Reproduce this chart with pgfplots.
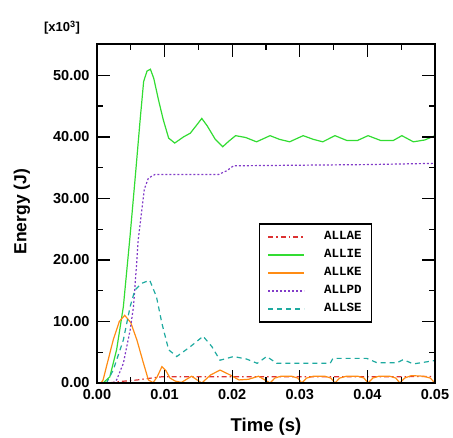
\documentclass[border=0pt]{standalone}
\usepackage{fontspec}
\setmainfont{Liberation Sans}
\setmonofont{Liberation Mono}
\usepackage{pgfplots}
\pgfplotsset{compat=1.18}

\definecolor{cAE}{RGB}{220,50,50}
\definecolor{cIE}{RGB}{50,220,50}
\definecolor{cKE}{RGB}{255,140,20}
\definecolor{cPD}{RGB}{130,60,200}
\definecolor{cSE}{RGB}{30,170,160}

\begin{document}
\begin{tikzpicture}
\path[use as bounding box] (-97pt,-55pt) rectangle (356pt,383pt);
\begin{axis}[
    name=ax,
    at={(0pt,0pt)}, anchor=origin,
    width=338pt, height=339pt, scale only axis,
    xmin=0, xmax=0.05, ymin=0, ymax=55.1,
    xtick={0,0.01,0.02,0.03,0.04,0.05},
    ytick={0,10,20,30,40,50},
    minor x tick num=1, minor y tick num=1,
    tick align=inside,
    major tick length=12.7pt, minor tick length=6pt,
    tick style={black, line width=1.3pt},
    scaled x ticks=false, scaled y ticks=false,
    xticklabel={\pgfmathprintnumber[fixed, fixed zerofill, precision=2, assume math mode=true]{\tick}},
    yticklabel={\pgfmathprintnumber[fixed, fixed zerofill, precision=2, assume math mode=true]{\tick}},
    tick label style={font=\bfseries\fontsize{14.5}{15}\selectfont},
    yticklabel style={xshift=-4pt},
    xticklabel style={yshift=-3pt},
    xlabel={Time (s)},
    ylabel={Energy (J)},
    xlabel style={font=\bfseries\fontsize{18.5}{20}\selectfont, at={(axis description cs:0.5,0)}, anchor=base, yshift=-49pt},
    ylabel style={font=\bfseries\fontsize{17.5}{20}\selectfont, at={(axis description cs:-0.2086,0.505)}, anchor=base},
    legend style={at={(rel axis cs:0.48,0.471)}, anchor=north west,
        draw=black, line width=1.2pt,
        font=\ttfamily\bfseries\fontsize{12.5}{13}\selectfont,
        inner xsep=8pt, inner ysep=4pt, column sep=17pt,
        nodes={text height=8pt, text depth=2pt, inner ysep=4pt}},
    legend cell align=left,
    legend image code/.code={\draw[#1] (0pt,0pt) -- (36pt,0pt);},
    clip=true,
]

\addplot[cAE, line width=1.2pt, dash pattern=on 5pt off 3pt on 1.5pt off 3pt] coordinates {
    (0,0) (0.002,0.05) (0.004,0.3) (0.006,0.5) (0.008,0.8) (0.0095,1.0)
    (0.015,1.0) (0.02,1.0) (0.03,1.0) (0.04,1.0) (0.05,1.05)
};
\addlegendentry{ALLAE}

\addplot[cIE, line width=1.2pt] coordinates {
    (0,0) (0.0007,0) (0.0010,0.1) (0.0019,1.0) (0.0029,5.4) (0.0039,12.4)
    (0.0049,24) (0.0057,34) (0.0064,43) (0.0069,49.0) (0.0074,50.7) (0.0079,51.0)
    (0.0084,49.5) (0.0091,46.0) (0.0098,42.8) (0.0106,39.8) (0.0115,39.0)
    (0.0128,40.0) (0.0138,40.6) (0.0148,42) (0.0155,43.0) (0.0163,41.8)
    (0.0175,39.6) (0.0186,38.4) (0.0195,39.3) (0.0205,40.2) (0.022,39.9)
    (0.0236,39.2) (0.0256,40.2) (0.027,39.6) (0.0285,39.2) (0.0305,40.2)
    (0.032,39.6) (0.0334,39.2) (0.0352,40.2) (0.037,39.4) (0.0385,39.4)
    (0.0401,40.2) (0.042,39.4) (0.0438,39.4) (0.0451,40.2) (0.0468,39.2)
    (0.0485,39.5) (0.05,40.2)
};
\addlegendentry{ALLIE}

\addplot[cKE, line width=1.2pt] coordinates {
    (0,0) (0.0006,0) (0.0009,0.5) (0.0024,7.0) (0.0033,10.0) (0.0041,11.0)
    (0.0050,9.8) (0.0059,7.0) (0.0068,3.5) (0.0076,0.5) (0.0083,0.05)
    (0.0089,1.0) (0.0096,2.65) (0.0102,2.0) (0.0108,0.8) (0.0116,0.3)
    (0.0125,0.1) (0.014,1.1) (0.0155,0.0) (0.0168,1.3) (0.0182,2.1)
    (0.0197,1.3) (0.021,0.5) (0.0224,0.6) (0.0239,1.1) (0.0256,0.0)
    (0.0263,0.8) (0.0272,1.1) (0.0288,1.1) (0.0297,0.8) (0.0303,0.0)
    (0.0310,0.8) (0.0320,1.1) (0.0337,1.1) (0.0346,0.8) (0.0352,0.0)
    (0.0359,0.8) (0.0369,1.1) (0.0386,1.1) (0.0395,0.8) (0.0401,0.0)
    (0.0408,0.8) (0.0417,1.1) (0.0433,1.1) (0.0442,0.8) (0.0448,0.0)
    (0.0455,0.8) (0.0465,1.2) (0.0483,1.1) (0.0493,0.8) (0.05,0.0)
};
\addlegendentry{ALLKE}

\addplot[cPD, line width=1.2pt, dash pattern=on 2pt off 2pt] coordinates {
    (0,0) (0.0024,0) (0.0029,0.5) (0.0039,3.2) (0.0049,8.6) (0.0054,12.4)
    (0.0059,20) (0.0061,23.3) (0.0064,26) (0.0070,31.5) (0.0076,33.3)
    (0.0086,33.9) (0.018,33.9) (0.0192,34.5) (0.0202,35.3) (0.03,35.4)
    (0.04,35.5) (0.05,35.7)
};
\addlegendentry{ALLPD}

\addplot[cSE, line width=1.2pt, dash pattern=on 5pt off 4pt] coordinates {
    (0,0) (0.0014,0) (0.0024,2.1) (0.0039,7.0) (0.0049,12.4) (0.0056,15.1)
    (0.0066,16.2) (0.0078,16.7) (0.0088,14.0) (0.0096,9.7) (0.0106,5.4)
    (0.0118,4.3) (0.0138,5.9) (0.0157,7.6) (0.017,5.9) (0.0182,3.7)
    (0.0202,4.3) (0.0221,3.9) (0.0237,3.2) (0.0251,4.3) (0.0266,3.2)
    (0.0345,3.2) (0.0349,4.0) (0.0399,4.0) (0.0414,3.3) (0.0444,3.3)
    (0.0453,3.8) (0.0468,3.1) (0.0497,3.6) (0.05,3.6)
};
\addlegendentry{ALLSE}
\end{axis}
% frame and inward ticks on all four sides (axis decoration)
\draw[line width=1.5pt] (ax.south west) rectangle (ax.north east);
\foreach \i in {1,2,3,4} {
    \draw[line width=1.3pt] ([xshift=\i*67.6pt]ax.south west) -- ++(0pt,12.7pt);
    \draw[line width=1.3pt] ([xshift=\i*67.6pt]ax.north west) -- ++(0pt,-12.7pt);
}
\foreach \i in {1,2,3,4,5} {
    \draw[line width=1.3pt] ([xshift=\i*67.6pt-33.8pt]ax.south west) -- ++(0pt,6pt);
    \draw[line width=1.3pt] ([xshift=\i*67.6pt-33.8pt]ax.north west) -- ++(0pt,-6pt);
    \draw[line width=1.3pt] ([yshift=\i*61.525pt]ax.south west) -- ++(12.7pt,0pt);
    \draw[line width=1.3pt] ([yshift=\i*61.525pt]ax.south east) -- ++(-12.7pt,0pt);
    \draw[line width=1.3pt] ([yshift=\i*61.525pt-30.76pt]ax.south west) -- ++(6pt,0pt);
    \draw[line width=1.3pt] ([yshift=\i*61.525pt-30.76pt]ax.south east) -- ++(-6pt,0pt);
}
\node[font=\bfseries\fontsize{13}{13}\selectfont, anchor=center] at ([xshift=-35pt, yshift=16pt]ax.north west) {[x10$^{\mathbf{3}}$]};
\end{tikzpicture}
\end{document}
